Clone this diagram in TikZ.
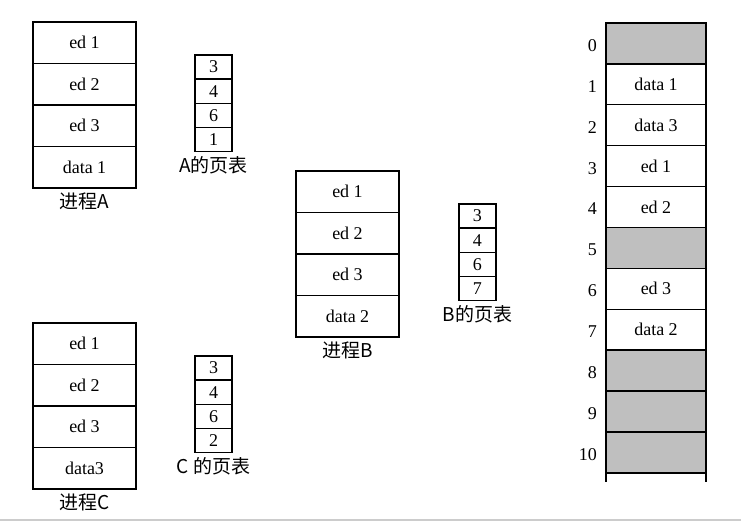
\documentclass[tikz,border=0pt]{standalone}
\usepackage{fontspec}
\setmainfont{Liberation Serif}
\newfontfamily\cjk{Noto Sans CJK SC}
\usetikzlibrary{positioning}

\tikzset{
  seg/.style={draw, line width=0.7pt, minimum width=51.5pt, minimum height=20.75pt, inner sep=0pt, outer sep=0pt},
  pte/.style={draw, line width=0.7pt, minimum width=18.5pt, minimum height=12.1pt, inner sep=0pt, outer sep=0pt},
  frame/.style={draw, line width=0.7pt, minimum width=50pt, minimum height=20.45pt, inner sep=0pt, outer sep=0pt},
  free/.style={frame, fill=black!25},
  caption/.style={font=\cjk\fontsize{9.5}{11}\selectfont, inner sep=1pt},
}

\begin{document}
\begin{tikzpicture}[x=0.5pt, y=-0.5pt, font=\fontsize{9}{11}\selectfont]
    \useasboundingbox (0,0) rectangle (741,522);

    % process A and its page table
    \node[seg, anchor=north west] (a1) at (33,22) {ed 1};
    \node[seg] (a2) [below=0pt of a1] {ed 2};
    \node[seg] (a3) [below=0pt of a2] {ed 3};
    \node[seg] (a4) [below=0pt of a3] {data 1};
    \node[caption] (procA) [below=1pt of a4] {进程A};

    \node[pte, anchor=north west] (pa1) at (195,55) {3};
    \node[pte] (pa2) [below=0pt of pa1] {4};
    \node[pte] (pa3) [below=0pt of pa2] {6};
    \node[pte] (pa4) [below=0pt of pa3] {1};
    \node[caption] (tabA) [below=1pt of pa4] {A的页表};

    % process B and its page table
    \node[seg, anchor=north west] (b1) at (296,171) {ed 1};
    \node[seg] (b2) [below=0pt of b1] {ed 2};
    \node[seg] (b3) [below=0pt of b2] {ed 3};
    \node[seg] (b4) [below=0pt of b3] {data 2};
    \node[caption] (procB) [below=1pt of b4] {进程B};

    \node[pte, anchor=north west] (pb1) at (459,204) {3};
    \node[pte] (pb2) [below=0pt of pb1] {4};
    \node[pte] (pb3) [below=0pt of pb2] {6};
    \node[pte] (pb4) [below=0pt of pb3] {7};
    \node[caption] (tabB) [below=1pt of pb4] {B的页表};

    % process C and its page table
    \node[seg, anchor=north west] (c1) at (33,323) {ed 1};
    \node[seg] (c2) [below=0pt of c1] {ed 2};
    \node[seg] (c3) [below=0pt of c2] {ed 3};
    \node[seg] (c4) [below=0pt of c3] {data3};
    \node[caption] (procC) [below=1pt of c4] {进程C};

    \node[pte, anchor=north west] (pc1) at (195,356) {3};
    \node[pte] (pc2) [below=0pt of pc1] {4};
    \node[pte] (pc3) [below=0pt of pc2] {6};
    \node[pte] (pc4) [below=0pt of pc3] {2};
    \node[caption] (tabC) [below=1pt of pc4] {C 的页表};

    % physical memory frames
    \node[free, anchor=north west] (m0) at (606,23) {};
    \node[frame] (m1) [below=0pt of m0] {data 1};
    \node[frame] (m2) [below=0pt of m1] {data 3};
    \node[frame] (m3) [below=0pt of m2] {ed 1};
    \node[frame] (m4) [below=0pt of m3] {ed 2};
    \node[free] (m5) [below=0pt of m4] {};
    \node[frame] (m6) [below=0pt of m5] {ed 3};
    \node[frame] (m7) [below=0pt of m6] {data 2};
    \node[free] (m8) [below=0pt of m7] {};
    \node[free] (m9) [below=0pt of m8] {};
    \node[free] (m10) [below=0pt of m9] {};
    \draw[line width=0.7pt] (m10.south west) -- ++(0,9);
    \draw[line width=0.7pt] (m10.south east) -- ++(0,9);

    \node (n0) [left=1pt of m0, yshift=-1pt] {0};
    \node (n1) [left=1pt of m1, yshift=-1pt] {1};
    \node (n2) [left=1pt of m2, yshift=-1pt] {2};
    \node (n3) [left=1pt of m3, yshift=-1pt] {3};
    \node (n4) [left=1pt of m4, yshift=-1pt] {4};
    \node (n5) [left=1pt of m5, yshift=-1pt] {5};
    \node (n6) [left=1pt of m6, yshift=-1pt] {6};
    \node (n7) [left=1pt of m7, yshift=-1pt] {7};
    \node (n8) [left=1pt of m8, yshift=-1pt] {8};
    \node (n9) [left=1pt of m9, yshift=-1pt] {9};
    \node (n10) [left=1pt of m10, yshift=-1pt] {10};

    \draw[black!20, line width=1pt] (0,520) -- (741,520);
\end{tikzpicture}
\end{document}
